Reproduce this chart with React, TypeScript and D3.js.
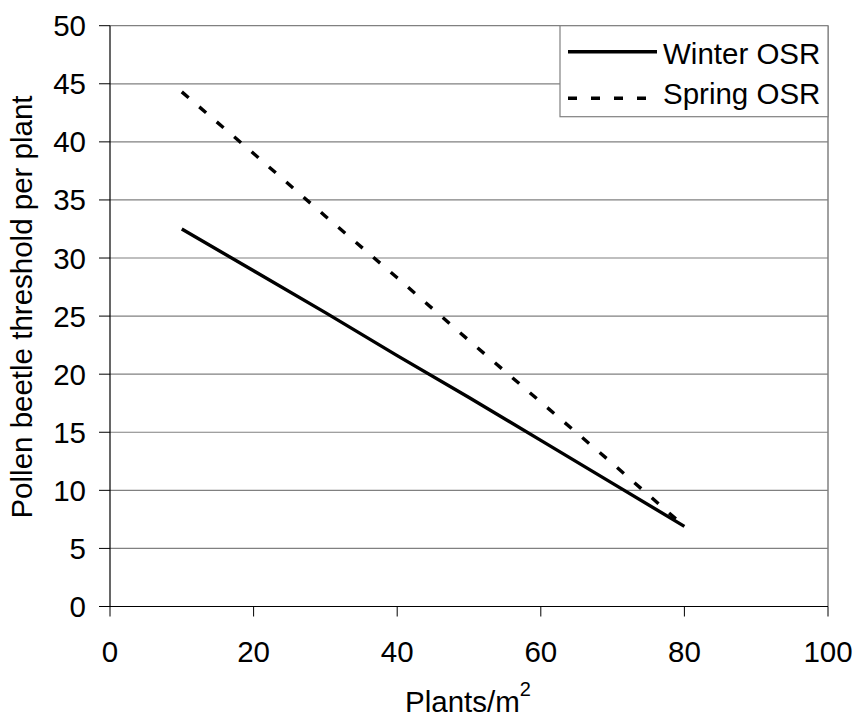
import React from "react";
import * as d3 from "d3";

const plantDensity = [10, 20, 30, 40, 50, 60, 70, 80];
const winterOSR = [32.5, 28.9, 25.3, 21.6, 18.0, 14.3, 10.6, 6.9];
const springOSR = [44.3, 39.0, 33.6, 28.3, 22.9, 17.6, 12.3, 6.9];
const yTicks = [0, 5, 10, 15, 20, 25, 30, 35, 40, 45, 50];
const xTicks = [0, 20, 40, 60, 80, 100];
const seriesNames = ["Winter OSR", "Spring OSR"];

const W = 855;
const H = 718;
const left = 110;
const right = 828;
const top = 25.7;
const bottom = 606.5;
const font = "'Liberation Sans', Arial, sans-serif";
const fs = 29.5;

export default function App() {
  const x = d3.scaleLinear().domain([0, 100]).range([left, right]);
  const y = d3.scaleLinear().domain([0, 50]).range([bottom, top]);
  const line = d3
    .line<number>()
    .x((_, i) => x(plantDensity[i]))
    .y((d) => y(d));

  return (
    <svg
      width={W}
      height={H}
      style={{ position: "absolute", left: 0, top: 0, background: "#fff" }}
      fontFamily={font}
    >
      <rect x={0} y={0} width={W} height={H} fill="#fff" />
      {yTicks.map((t) => (
        <g key={t}>
          {t > 0 && (
            <line x1={left} x2={right} y1={y(t)} y2={y(t)} stroke="#808080" strokeWidth={1.2} />
          )}
          <line x1={left - 11} x2={left} y1={y(t)} y2={y(t)} stroke="#000" strokeWidth={1} />
          <text x={86} y={y(t) + 10.5} fontSize={fs} textAnchor="end" fill="#000">
            {t}
          </text>
        </g>
      ))}
      <line x1={right} x2={right} y1={top} y2={bottom} stroke="#808080" strokeWidth={1.5} />
      <line x1={left} x2={left} y1={top} y2={bottom} stroke="#000" strokeWidth={1.2} />
      <line x1={left} x2={right} y1={bottom} y2={bottom} stroke="#000" strokeWidth={1.2} />
      {xTicks.map((t) => (
        <g key={t}>
          <line x1={x(t)} x2={x(t)} y1={bottom} y2={bottom + 10} stroke="#000" strokeWidth={1} />
          <text x={x(t)} y={661.5} fontSize={fs} textAnchor="middle" fill="#000">
            {t}
          </text>
        </g>
      ))}
      <path d={line(winterOSR) || ""} fill="none" stroke="#000" strokeWidth={3.4} />
      <path
        d={line(springOSR) || ""}
        fill="none"
        stroke="#000"
        strokeWidth={3.4}
        strokeDasharray="9,14"
      />
      <rect x={560} y={top} width={right - 560} height={91} fill="#fff" stroke="#808080" strokeWidth={1.2} />
      <line x1={568} x2={657} y1={51.7} y2={51.7} stroke="#000" strokeWidth={3.4} />
      <text x={663} y={63.5} fontSize={fs} fill="#000">
        {seriesNames[0]}
      </text>
      <line x1={568} x2={657} y1={98.3} y2={98.3} stroke="#000" strokeWidth={3.4} strokeDasharray="9,14" />
      <text x={663} y={104} fontSize={fs} fill="#000">
        {seriesNames[1]}
      </text>
      <text
        transform={`translate(32, 307) rotate(-90)`}
        fontSize={fs}
        textAnchor="middle"
        fill="#000"
      >
        Pollen beetle threshold per plant
      </text>
      <text x={468} y={712} fontSize={fs} textAnchor="middle" fill="#000">
        Plants/m
        <tspan fontSize={20} dy={-16}>
          2
        </tspan>
      </text>
    </svg>
  );
}
